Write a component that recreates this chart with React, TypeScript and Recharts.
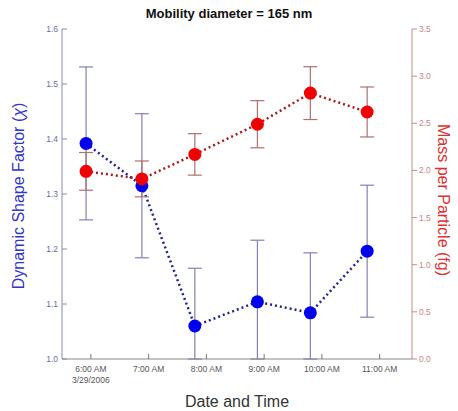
import React from 'react';
import {
  ComposedChart,
  ErrorBar,
  Label,
  Line,
  XAxis,
  YAxis,
} from 'recharts';

// sampling times on 3/29/2006
const times = ['05:55', '06:53', '07:48', '08:53', '09:48', '10:47'];
// dynamic shape factor (chi) with +/- errors
const shapeFactor = [1.392, 1.315, 1.06, 1.104, 1.084, 1.196];
const shapeFactorErr = [0.139, 0.131, 0.105, 0.112, 0.109, 0.12];
// mass per particle (fg) with +/- errors
const massPerParticle = [1.99, 1.91, 2.17, 2.49, 2.82, 2.62];
const massErr = [0.2, 0.19, 0.22, 0.25, 0.28, 0.265];

const hourTicks = [6, 7, 8, 9, 10, 11];
const hourTickLabels = ['6:00 AM', '7:00 AM', '8:00 AM', '9:00 AM', '10:00 AM', '11:00 AM'];
const dateLabel = '3/29/2006';
const chiTicks = [1.0, 1.1, 1.2, 1.3, 1.4, 1.5, 1.6];
const massTicks = [0, 0.5, 1.0, 1.5, 2.0, 2.5, 3.0, 3.5];

const CHI_MIN = 1.0;
const FONT = 'Arial, "Liberation Sans", sans-serif';

const toHours = (t: string) => {
  const [h, m] = t.split(':').map(Number);
  return h + m / 60;
};

const data = times.map((t, i) => ({
  time: toHours(t),
  chi: shapeFactor[i],
  // lower error clipped at the bottom of the plot
  chiErr: [Math.min(shapeFactorErr[i], shapeFactor[i] - CHI_MIN), shapeFactorErr[i]],
  mass: massPerParticle[i],
  massErr: massErr[i],
}));

const BottomTick = (props: any) => {
  const { x, y, payload, index } = props;
  return (
    <g>
      <line x1={x} x2={x} y1={y} y2={y - 5} stroke='#777' />
      <text x={x} y={y + 13} textAnchor='middle' fontSize={8.5} fill='#555' fontFamily={FONT}>
        {hourTickLabels[hourTicks.indexOf(payload.value)]}
      </text>
      {index === 0 && (
        <text x={x} y={y + 24} textAnchor='middle' fontSize={8.5} fill='#555' fontFamily={FONT}>
          {dateLabel}
        </text>
      )}
    </g>
  );
};

const TopTick = (props: any) => {
  const { x, y } = props;
  return <line x1={x} x2={x} y1={y} y2={y + 5} stroke='#777' />;
};

const LeftTick = (props: any) => {
  const { x, y, payload } = props;
  return (
    <g>
      <line x1={x} x2={x + 5} y1={y} y2={y} stroke='#8a8ab8' />
      <text x={x - 4} y={y + 3} textAnchor='end' fontSize={8.5} fill='#6a6ab0' fontFamily={FONT}>
        {payload.value.toFixed(1)}
      </text>
    </g>
  );
};

const RightTick = (props: any) => {
  const { x, y, payload } = props;
  return (
    <g>
      <line x1={x} x2={x + 5} y1={y} y2={y} stroke='#c88a8a' />
      <text x={x + 7} y={y + 3} textAnchor='start' fontSize={8.5} fill='#d08484' fontFamily={FONT}>
        {payload.value.toFixed(1)}
      </text>
    </g>
  );
};

export default function App() {
  return (
    <div style={{ position: 'absolute', left: 0, top: 0, width: 458, height: 411, background: '#fff' }}>
      <div
        style={{
          position: 'absolute',
          top: 6,
          left: 0,
          width: 458,
          textAlign: 'center',
          fontFamily: FONT,
          fontWeight: 'bold',
          fontSize: 13,
          color: '#111',
        }}
      >
        Mobility diameter = 165 nm
      </div>
      <ComposedChart
        width={458}
        height={411}
        data={data}
        margin={{ top: 29, right: 0, bottom: 0, left: 0 }}
      >
        <XAxis
          xAxisId='top'
          orientation='top'
          type='number'
          dataKey='time'
          domain={[5.5, 11.56]}
          ticks={hourTicks}
          height={0}
          tickSize={0}
          tickLine={false}
          tick={<TopTick />}
          axisLine={{ stroke: '#888' }}
          allowDataOverflow
        />
        <XAxis
          type='number'
          dataKey='time'
          domain={[5.5, 11.56]}
          ticks={hourTicks}
          height={52}
          tickSize={0}
          tickMargin={0}
          tickLine={false}
          tick={<BottomTick />}
          axisLine={{ stroke: '#888' }}
          allowDataOverflow
        >
          <Label
            content={({ viewBox }: any) => (
              <text
                x={viewBox.x + viewBox.width / 2}
                y={viewBox.y + 48}
                textAnchor='middle'
                fontSize={16}
                fill='#333'
                fontFamily={FONT}
              >
                Date and Time
              </text>
            )}
          />
        </XAxis>
        <YAxis
          yAxisId='chi'
          orientation='left'
          width={62}
          domain={[1.0, 1.6]}
          ticks={chiTicks}
          tickSize={0}
          tickMargin={0}
          tickLine={false}
          tick={<LeftTick />}
          axisLine={{ stroke: '#8a8ab8' }}
          allowDataOverflow
        >
          <Label
            content={({ viewBox }: any) => {
              const cx = viewBox.x + 24;
              const cy = viewBox.y + viewBox.height / 2 + 2;
              return (
                <text
                  x={cx}
                  y={cy}
                  transform={`rotate(-90 ${cx} ${cy})`}
                  textAnchor='middle'
                  fontSize={16}
                  fill='#3535cc'
                  fontFamily={FONT}
                >
                  Dynamic Shape Factor (<tspan fontStyle='italic'>χ</tspan>)
                </text>
              );
            }}
          />
        </YAxis>
        <YAxis
          yAxisId='mass'
          orientation='right'
          width={46}
          domain={[0, 3.5]}
          ticks={massTicks}
          tickSize={0}
          tickMargin={0}
          tickLine={false}
          tick={<RightTick />}
          axisLine={{ stroke: '#c88a8a' }}
          allowDataOverflow
        >
          <Label
            content={({ viewBox }: any) => {
              const cx = viewBox.x + 26;
              const cy = viewBox.y + viewBox.height / 2 + 6;
              return (
                <text
                  x={cx}
                  y={cy}
                  transform={`rotate(90 ${cx} ${cy})`}
                  textAnchor='middle'
                  fontSize={16}
                  fill='#e03030'
                  fontFamily={FONT}
                >
                  Mass per Particle (fg)
                </text>
              );
            }}
          />
        </YAxis>
        <Line
          yAxisId='chi'
          dataKey='chi'
          stroke='#23239a'
          strokeWidth={2.5}
          strokeDasharray='2 3'
          dot={{ r: 6.5, fill: '#0000f0', stroke: 'none' }}
          activeDot={false}
          isAnimationActive={false}
        >
          <ErrorBar dataKey='chiErr' direction='y' width={7} stroke='#8080b8' strokeWidth={1.2} isAnimationActive={false} />
        </Line>
        <Line
          yAxisId='mass'
          dataKey='mass'
          stroke='#b01818'
          strokeWidth={2.5}
          strokeDasharray='2 3'
          dot={{ r: 6.5, fill: '#f00000', stroke: 'none' }}
          activeDot={false}
          isAnimationActive={false}
        >
          <ErrorBar dataKey='massErr' direction='y' width={7} stroke='#b07070' strokeWidth={1.2} isAnimationActive={false} />
        </Line>
      </ComposedChart>
    </div>
  );
}
